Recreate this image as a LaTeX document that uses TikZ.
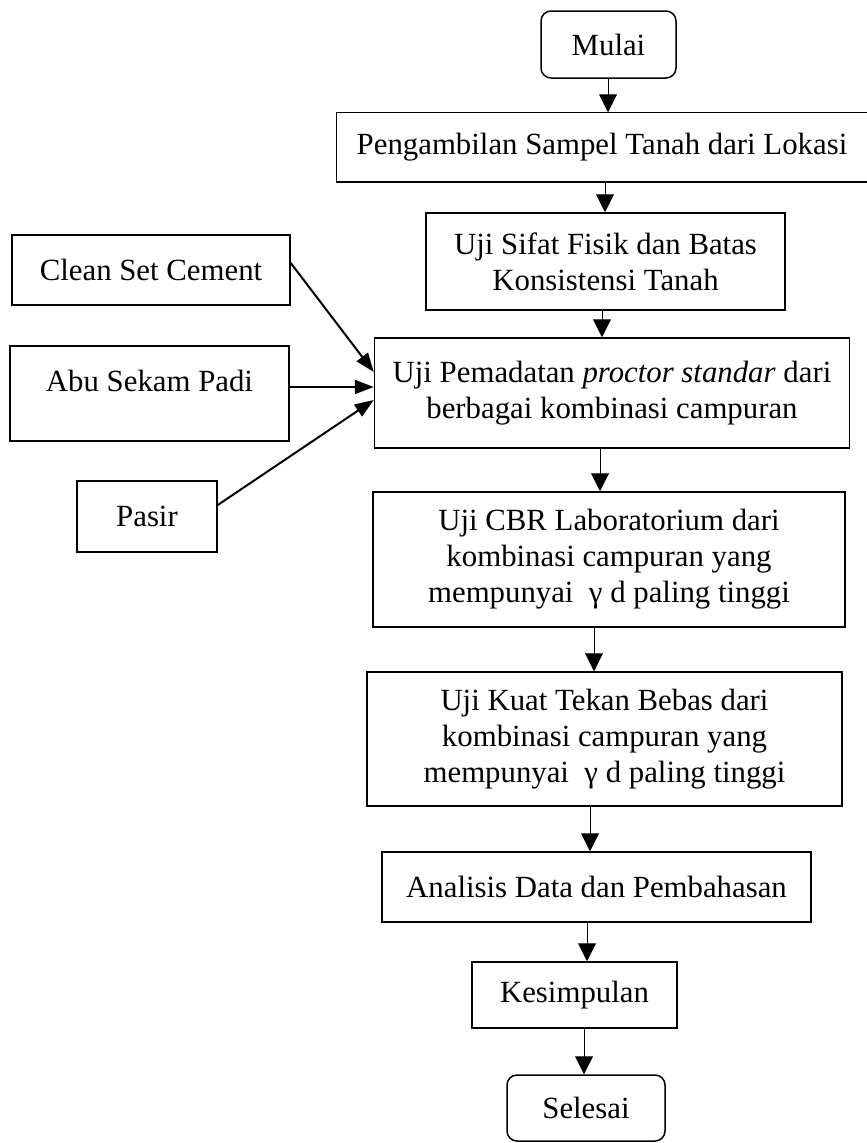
\documentclass[tikz,border=0pt]{standalone}
\usepackage{fontspec}
\setmainfont{Liberation Serif}
\usetikzlibrary{arrows.meta}
\begin{document}
\begin{tikzpicture}[x=1pt,y=-1pt,
  box/.style={draw, line width=1.5pt, inner sep=0pt, align=center, font=\fontsize{30.8}{36}\selectfont},
  rbox/.style={box, rounded corners=10pt},
  varr/.style={line width=1pt, -{Triangle[length=18pt,width=18pt]}},
  sarr/.style={line width=2pt, -{Triangle[length=19pt,width=14pt]}}]
\useasboundingbox (0,0) rectangle (867,1143);
\fill[white] (0,0) rectangle (867,1143);
% main column
\node[rbox, minimum width=135pt, minimum height=67pt] (mulai) at (608.5,44.5) {Mulai};
\node[box, draw=none, minimum width=530pt, minimum height=68pt] (peng) at (602,147) {Pengambilan Sampel Tanah dari Lokasi};
\draw[line width=1.5pt] (peng.north east) -- (peng.north west) -- (peng.south west) -- (peng.south east);
\node[box, minimum width=359pt, minimum height=97pt] (sifat) at (605.5,261.5) {Uji Sifat Fisik dan Batas\\Konsistensi Tanah};
\node[box, minimum width=475pt, minimum height=110pt] (pem) at (612,393) {Uji Pemadatan \textit{proctor standar} dari\\berbagai kombinasi campuran};
\node[box, minimum width=472pt, minimum height=135pt] (cbr) at (609,559.5) {Uji CBR Laboratorium dari\\kombinasi campuran yang\\mempunyai \ γ d paling tinggi};
\node[box, minimum width=475pt, minimum height=134pt] (kuat) at (604.5,739) {Uji Kuat Tekan Bebas dari\\kombinasi campuran yang\\mempunyai \ γ d paling tinggi};
\node[box, minimum width=429pt, minimum height=70pt] (anal) at (596.5,887) {Analisis Data dan Pembahasan};
\node[box, minimum width=205pt, minimum height=66pt] (kes) at (574.5,995) {Kesimpulan};
\node[rbox, minimum width=158pt, minimum height=66pt] (sel) at (586,1108) {Selesai};
% side inputs
\node[box, minimum width=278pt, minimum height=70pt] (clean) at (151,270) {Clean Set Cement};
\node[box, minimum width=279pt, minimum height=95pt, text depth=26pt] (abu) at (149.5,393.5) {Abu Sekam Padi};
\node[box, minimum width=140pt, minimum height=71pt] (pasir) at (147,516.5) {Pasir};
% arrow columns
\coordinate (a1) at (608,0);
\coordinate (a2) at (605,0);
\coordinate (a3) at (602,0);
\coordinate (a4) at (600,0);
\coordinate (a5) at (594,0);
\coordinate (a6) at (590,0);
\coordinate (a7) at (587,0);
\coordinate (a8) at (584,0);
\draw[varr] (mulai.south -| a1) -- (peng.north -| a1);
\draw[varr] (peng.south -| a2) -- (sifat.north -| a2);
\draw[varr] (sifat.south -| a3) -- (pem.north -| a3);
\draw[varr] (pem.south -| a4) -- (cbr.north -| a4);
\draw[varr] (cbr.south -| a5) -- (kuat.north -| a5);
\draw[varr] (kuat.south -| a6) -- (anal.north -| a6);
\draw[varr] (anal.south -| a7) -- (kes.north -| a7);
\draw[varr] (kes.south -| a8) -- (sel.north -| a8);
% side arrows
\draw[sarr] ([yshift=7pt]clean.east) -- ([yshift=21pt]pem.west);
\draw[sarr] ([yshift=6.5pt]abu.east) -- ([yshift=6pt]pem.west);
\draw[sarr] ([yshift=11.5pt]pasir.east) -- ([yshift=-7pt]pem.west);
\end{tikzpicture}
\end{document}
